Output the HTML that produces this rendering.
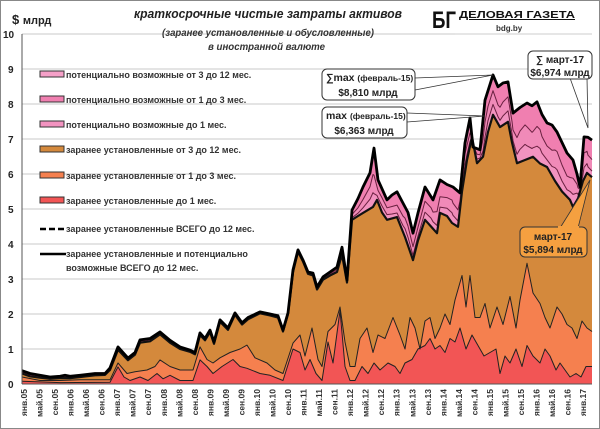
<!DOCTYPE html>
<html><head><meta charset="utf-8">
<style>
html,body{margin:0;padding:0;background:#fff}
svg{display:block}
text{font-family:"Liberation Sans","DejaVu Sans",sans-serif}
</style></head><body>
<svg id="s" width="600" height="429" viewBox="0 0 600 429" xmlns="http://www.w3.org/2000/svg">
<rect x="0.5" y="0.5" width="599" height="428" fill="#fff" stroke="#888" stroke-width="1"/>
<g id="grid"></g>
<g id="areas"></g>
<g id="lines"></g>
<line x1="22" y1="34" x2="22" y2="384" stroke="#555" stroke-width="1"/>
<line x1="22" y1="384" x2="592" y2="384" stroke="#555" stroke-width="1"/>
<g id="ylab" font-size="10" font-weight="bold" fill="#222"></g>
<g id="xlab" font-size="8.5" font-weight="bold" fill="#333"></g>
<text x="12" y="24" font-size="13" font-weight="bold" fill="#222">$ <tspan font-size="11">млрд</tspan></text>
<text x="134" y="18" font-size="13" font-weight="bold" font-style="italic" fill="#222" textLength="268" lengthAdjust="spacingAndGlyphs">краткосрочные чистые затраты активов</text>
<text x="162" y="36" font-size="10" font-weight="bold" font-style="italic" fill="#333" textLength="212" lengthAdjust="spacingAndGlyphs">(заранее установленные и обусловленные)</text>
<text x="208" y="50" font-size="10" font-weight="bold" font-style="italic" fill="#333" textLength="117" lengthAdjust="spacingAndGlyphs">в иностранной валюте</text>
<text x="432" y="28" font-size="24" font-weight="bold" font-family="Liberation Serif,serif" fill="#111" textLength="24" lengthAdjust="spacingAndGlyphs">БГ</text>
<text x="459" y="18" font-size="10" font-weight="bold" font-family="Liberation Serif,serif" fill="#111" text-decoration="underline" textLength="116" lengthAdjust="spacingAndGlyphs">ДЕЛОВАЯ ГАЗЕТА</text>
<text x="496" y="31" font-size="8" font-weight="bold" font-family="Liberation Serif,serif" fill="#333">bdg.by</text>
<line x1="455" y1="34" x2="592" y2="34" stroke="#ccc"/>
<g id="legend" font-size="9" font-weight="bold" fill="#333"></g>
<g id="callouts"></g>
</svg>
<script>
var X0=22,X1=591,Y0=384,K=35;
function Y(v){return Y0-v*K;}
var total=[[22,0.38],[30,0.3],[40,0.25],[50,0.2],[60,0.22],[65,0.25],[70,0.22],[80,0.25],[95,0.3],[105,0.3],[110,0.46],[118,1.06],[128,0.74],[135,0.9],[140,1.26],[150,1.3],[160,1.49],[170,1.25],[180,1.06],[190,0.97],[195,0.9],[200,1.46],[205,1.3],[210,1.54],[214,1.2],[220,1.83],[228,1.6],[235,2.03],[242,1.75],[248,1.9],[260,2.06],[270,2.0],[278,1.95],[283,1.54],[288,2.03],[293,3.26],[298,3.83],[303,3.54],[308,3.2],[313,3.17],[317,2.77],[323,3.06],[330,3.2],[337,3.34],[342,3.91],[347,2.97],[352,4.97],[358,5.3],[363,5.63],[370,6.03],[374,6.74],[378,5.83],[387,5.26],[392,5.4],[397,5.49],[403,5.17],[408,4.9],[413,4.31],[418,4.89],[425,5.63],[433,5.26],[440,5.83],[447,5.7],[453,5.63],[460,5.46],[465,6.89],[470,7.6],[473,6.77],[480,6.69],[485,8.11],[493,8.83],[498,8.49],[503,8.6],[508,8.63],[513,7.74],[520,7.9],[527,8.03],[532,7.95],[537,8.06],[542,7.7],[547,7.46],[552,7.4],[557,7.2],[562,6.9],[567,6.6],[573,6.4],[577,6.0],[580,5.63],[584,7.06],[588,7.05],[592,6.97]];
var orange=[[22,0.3],[30,0.22],[40,0.18],[50,0.15],[60,0.17],[70,0.17],[80,0.2],[95,0.25],[105,0.26],[110,0.4],[118,0.98],[128,0.68],[135,0.84],[140,1.18],[150,1.22],[160,1.42],[170,1.18],[180,1.0],[190,0.92],[195,0.85],[200,1.4],[205,1.25],[210,1.48],[214,1.15],[220,1.78],[228,1.55],[235,1.98],[242,1.7],[248,1.85],[260,2.02],[270,1.96],[278,1.9],[283,1.5],[288,2.0],[293,3.2],[298,3.78],[303,3.5],[308,3.15],[313,3.1],[317,2.7],[323,2.98],[330,3.1],[337,3.2],[342,3.7],[347,2.9],[352,4.69],[358,4.8],[363,4.89],[373,5.06],[377,5.26],[382,4.9],[387,4.69],[397,4.77],[405,4.2],[413,3.54],[418,4.1],[425,4.69],[431,4.5],[437,4.31],[440,4.89],[447,4.8],[452,4.6],[458,4.49],[462,5.5],[467,6.4],[472,7.06],[477,6.31],[483,6.49],[488,7.2],[493,7.69],[500,7.34],[508,7.49],[512,6.9],[517,6.31],[525,6.4],[533,6.49],[540,6.3],[547,6.2],[555,5.8],[562,5.5],[570,5.26],[573,5.06],[578,5.3],[583,5.8],[587,6.03],[592,5.91]];
var mid=[[22,0.2],[40,0.1],[60,0.1],[80,0.12],[110,0.12],[118,0.6],[127,0.3],[135,0.35],[147,0.4],[155,0.5],[160,0.69],[170,0.5],[180,0.4],[193,0.4],[200,1.06],[207,0.7],[213,0.6],[220,0.75],[230,0.9],[240,1.0],[247,1.11],[255,0.75],[267,0.6],[275,0.4],[283,0.3],[293,1.17],[300,1.4],[305,0.8],[312,1.6],[318,0.7],[322,0.5],[328,1.5],[335,1.7],[340,2.2],[345,1.2],[350,0.5],[355,0.5],[360,1.3],[367,1.6],[373,0.9],[378,1.4],[385,1.3],[393,1.9],[400,1.4],[405,1.0],[410,1.9],[415,1.6],[420,1.0],[425,1.8],[430,1.9],[435,1.3],[440,1.6],[445,2.0],[450,1.7],[455,2.4],[462,3.1],[466,2.2],[470,3.1],[475,1.9],[480,1.9],[485,2.3],[490,1.6],[497,2.2],[503,1.7],[510,2.5],[516,1.6],[520,2.4],[527,3.45],[533,2.6],[540,2.3],[545,1.9],[550,1.6],[557,2.2],[562,2.0],[567,1.7],[572,1.6],[577,1.3],[582,1.8],[587,1.6],[592,1.5]];
var red=[[22,0.08],[60,0.04],[110,0.05],[118,0.49],[124,0.2],[130,0.1],[140,0.2],[148,0.1],[157,0.3],[163,0.15],[170,0.25],[180,0.1],[193,0.1],[200,0.69],[207,0.5],[213,0.3],[222,0.5],[233,0.7],[240,0.5],[247,0.45],[260,0.3],[270,0.25],[283,0.1],[293,1.0],[300,0.9],[305,0.4],[310,0.7],[316,0.3],[322,0.1],[328,1.2],[333,0.6],[340,2.1],[345,0.5],[350,0.1],[355,0.1],[362,0.5],[368,0.3],[374,0.6],[380,0.4],[388,0.6],[395,0.5],[400,0.3],[405,0.6],[412,0.7],[418,1.0],[425,1.1],[430,1.3],[435,1.0],[440,1.1],[445,0.9],[450,1.3],[455,1.2],[460,1.6],[466,1.0],[472,1.4],[478,1.1],[484,0.8],[490,0.9],[496,1.0],[500,0.3],[505,0.8],[510,0.6],[516,1.0],[522,0.5],[527,1.1],[533,0.8],[540,0.6],[545,1.0],[550,0.8],[556,0.4],[560,0.6],[565,0.4],[570,0.2],[576,0.3],[581,0.2],[586,0.5],[592,0.5]];
function interp(a,x){for(var i=1;i<a.length;i++){if(x<=a[i][0]){var t=(x-a[i-1][0])/(a[i][0]-a[i-1][0]);return a[i-1][1]+t*(a[i][1]-a[i-1][1]);}}return a[a.length-1][1];}
var xs=[];total.concat(orange).forEach(function(p){if(xs.indexOf(p[0])<0)xs.push(p[0]);});xs.sort(function(a,b){return a-b});
function frac(f,wob){return xs.map(function(x,i){var o=interp(orange,x),t=interp(total,x);var ff=f+wob*Math.sin(i*1.3);return [x,o+(t-o)*ff];});}
var p1=frac(0.22,0.06),p2=frac(0.55,0.08);
function pts(a){return a.map(function(p){return p[0]+","+Y(p[1]).toFixed(1)}).join(" ");}
function area(a,c){return '<polygon points="'+pts(a)+' '+a[a.length-1][0]+','+Y0+' '+a[0][0]+','+Y0+'" fill="'+c+'"/>';}
var g='';for(var v=1;v<=10;v++)g+='<line x1="22" x2="592" y1="'+Y(v)+'" y2="'+Y(v)+'" stroke="#c8c8c8" stroke-width="1"/>';
document.getElementById('grid').innerHTML=g;
document.getElementById('areas').innerHTML=area(total,'#f07fb0')+area(p2,'#f08ab8')+area(p1,'#f293c0')+area(orange,'#d4893c')+area(mid,'#f5804f')+area(red,'#f25555');
function pl(a,w,c,d){return '<polyline points="'+pts(a)+'" fill="none" stroke="'+c+'" stroke-width="'+w+'" stroke-linejoin="round"'+(d?' stroke-dasharray="'+d+'"':'')+'/>';}
document.getElementById('lines').innerHTML=pl(red,1,'#222')+pl(mid,1,'#222')+pl(p1,1,'#6a2040')+pl(p2,1,'#6a2040')+pl(orange,2.2,'#111')+pl(total,2.8,'#000');
var yl='';for(var v=0;v<=10;v++)yl+='<text x="'+(v==10?3:8)+'" y="'+(Y(v)+4)+'">'+v+'</text>';
document.getElementById('ylab').innerHTML=yl;
var m=['янв','май','сен'],xl='';
for(var k=0;k<37;k++){var yr=5+Math.floor(k/3);var lab=m[k%3]+'.'+(yr<10?'0'+yr:yr);var x=24+k*15.53+3;xl+='<text transform="translate('+x.toFixed(1)+',389) rotate(-90)" text-anchor="end">'+lab+'</text>';}
document.getElementById('xlab').innerHTML=xl;
var L=[['#f5a0c8','потенциально  возможные  от 3 до 12 мес.',78],['#f07fb0','потенциально  возможные  от 1 до 3 мес.',103],['#f293c0','потенциально  возможные  до 1 мес.',128],['#d4893c','заранее  установленные  от 3 до 12 мес.',153],['#f5804f','заранее  установленные  от 1 до 3 мес.',179],['#f25555','заранее  установленные  до 1 мес.',204]];
var lg='';L.forEach(function(l){lg+='<rect x="40" y="'+(l[2]-7)+'" width="24" height="6" fill="'+l[0]+'" stroke="#333" stroke-width="1"/><text x="66" y="'+l[2]+'">'+l[1]+'</text>';});
lg+='<line x1="40" x2="64" y1="229" y2="229" stroke="#000" stroke-width="2.5" stroke-dasharray="6,3"/><text x="66" y="232">заранее  установленные  ВСЕГО до 12 мес.</text>';
lg+='<line x1="40" x2="66" y1="254" y2="254" stroke="#000" stroke-width="2.5"/><text x="66" y="257">заранее  установленные  и потенциально</text><text x="66" y="271">возможные ВСЕГО до 12 мес.</text>';
document.getElementById('legend').innerHTML=lg;
var c='';
c+='<polyline points="415,78 493,75 415,90" fill="none" stroke="#333" stroke-width="0.8"/>';
c+='<rect x="322" y="69" width="93" height="31" rx="5" fill="#fff" stroke="#333"/><text x="326" y="81" font-size="10.5" font-weight="bold" fill="#222">∑max <tspan font-size="8.5">(февраль-15)</tspan></text><text x="368" y="96" text-anchor="middle" font-size="10" font-weight="bold" fill="#222">$8,810 млрд</text>';
c+='<polyline points="407,113 485,116 407,122" fill="none" stroke="#333" stroke-width="0.8"/>';
c+='<rect x="322" y="107" width="85" height="31" rx="5" fill="#fff" stroke="#333"/><text x="326" y="119" font-size="10.5" font-weight="bold" fill="#222">max <tspan font-size="8.5">(февраль-15)</tspan></text><text x="364" y="134" text-anchor="middle" font-size="10" font-weight="bold" fill="#222">$6,363 млрд</text>';
c+='<polyline points="570,78 588,128 587,78" fill="none" stroke="#333" stroke-width="0.8"/>';
c+='<rect x="528" y="51" width="64" height="28" rx="5" fill="#fff" stroke="#333"/><text x="560" y="63" text-anchor="middle" font-size="10" font-weight="bold" fill="#222">∑ март-17</text><text x="560" y="76" text-anchor="middle" font-size="10" font-weight="bold" fill="#222">$6,974 млрд</text>';
c+='<polygon points="560,228 590,180 578,228" fill="#f5a040" stroke="#333" stroke-width="0.8"/>';
c+='<rect x="520" y="227" width="67" height="30" rx="5" fill="#f5a040" stroke="#333"/><rect x="558" y="226" width="21" height="3" fill="#f5a040"/><text x="553" y="240" text-anchor="middle" font-size="10" font-weight="bold" fill="#222">март-17</text><text x="553" y="253" text-anchor="middle" font-size="10" font-weight="bold" fill="#222">$5,894 млрд</text>';
document.getElementById('callouts').innerHTML=c;
</script>
</body></html>
